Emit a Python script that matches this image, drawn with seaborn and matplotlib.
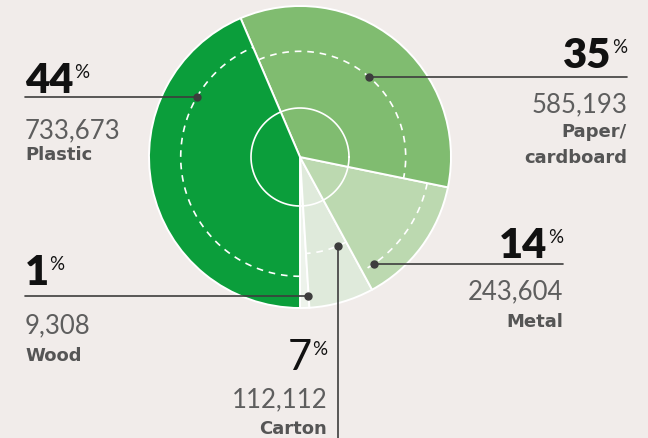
import numpy as np
import matplotlib
matplotlib.use("Agg")
import matplotlib.pyplot as plt
import seaborn as sns

# Waste by material (pie order: counter-clockwise from 6 o'clock)
materials = ["Wood", "Carton", "Metal", "Paper/\ncardboard", "Plastic"]
shares = [1, 7, 14, 35, 44]
tonnes = ["9,308", "112,112", "243,604", "585,193", "733,673"]
# dashed ring inside each slice, as a fraction of the radius
ring_levels = [None, 0.64, 0.86, 0.70, 0.79]

colors = ["#edf3eb", "#dfeadb", "#bcd9b0", "#80bc70", "#0b9e3b"]
bg = "#f1ecea"

sns.set_theme(style="white")
plt.rcParams["font.family"] = ["Lato", "DejaVu Sans"]

W, H = 648, 438
fig = plt.figure(figsize=(W / 100, H / 100), dpi=100, facecolor=bg)
ax = fig.add_axes([0, 0, 1, 1])
ax.set_facecolor(bg)

cx, cy, R = 300, 157, 151

# y axis is inverted below, so startangle=90 / clockwise puts the first
# slice at the bottom and runs it round to the right on screen
wedges, _ = ax.pie(shares, colors=colors, startangle=90, counterclock=False,
                   center=(cx, cy), radius=R,
                   wedgeprops=dict(edgecolor="white", linewidth=1.4))

# dashed arcs per slice
for w, lvl in zip(wedges, ring_levels):
    if lvl is None:
        continue
    t = np.radians(np.linspace(w.theta1, w.theta2, 120))
    ax.plot(cx + lvl * R * np.cos(t), cy + lvl * R * np.sin(t),
            color="white", lw=1.2, dashes=(4, 3.5), zorder=3)

# inner white circle
t = np.linspace(0, 2 * np.pi, 200)
ax.plot(cx + 49 * np.cos(t), cy + 49 * np.sin(t), color="white", lw=1.2, zorder=3)

ax.set_xlim(0, W)
ax.set_ylim(H, 0)
ax.set_aspect("equal")
ax.axis("off")

renderer = fig.canvas.get_renderer()
inv = ax.transData.inverted()

# label layout: anchor angle on screen (deg), anchor radius, baselines
layout = {
    "Plastic": dict(ang=150, r=0.79, line=True, x=25, align="left", w="heavy",
                    base=93, num_y=138, name_y=160),
    "Paper/\ncardboard": dict(ang=49.6, r=0.70, line=True, x=627, align="right", w="heavy",
                              base=68, num_y=112, name_y=137),
    "Metal": dict(ang=-55.4, r=0.86, line=True, x=563, align="right", w="heavy",
                  base=258, num_y=299, name_y=327),
    "Wood": dict(ang=-86.7, r=0.92, line=True, x=25, align="left", w="heavy",
                 base=285, num_y=333, name_y=361),
    "Carton": dict(ang=-67, r=0.64, line=False, x=327, align="right", w="normal",
                   base=370, num_y=407, name_y=434),
}

line_col = "#3d3d3d"
for name, pct, num in zip(materials, shares, tonnes):
    L = layout[name]
    a = np.radians(L["ang"])
    px = cx + L["r"] * R * np.cos(a)
    py = cy - L["r"] * R * np.sin(a)
    ax.plot(px, py, "o", color=line_col, ms=5, zorder=5)

    if L["line"]:
        ax.plot([L["x"], px], [py, py], color=line_col, lw=1.2, zorder=4)
    else:
        ax.plot([px, px], [py, H + 5], color=line_col, lw=1.2, zorder=4)

    x, base = L["x"], L["base"]
    if L["align"] == "left":
        t1 = ax.text(x, base, str(pct), ha="left", va="baseline", fontsize=30,
                     fontweight=L["w"], color="#111111")
        bb = t1.get_window_extent(renderer).transformed(inv)
        ax.text(bb.x1 + 0.5, base - 15, "%", ha="left", va="baseline", fontsize=13.5,
                color="#111111")
    else:
        t2 = ax.text(x, base - 15, "%", ha="right", va="baseline", fontsize=13.5,
                     color="#111111")
        bb = t2.get_window_extent(renderer).transformed(inv)
        ax.text(bb.x0 - 0.5, base, str(pct), ha="right", va="baseline", fontsize=30,
                fontweight=L["w"], color="#111111")

    ax.text(x, L["num_y"], num, ha=L["align"], va="baseline", fontsize=18.5,
            color="#5e5e5e")
    for i, part in enumerate(name.split("\n")):
        ax.text(x, L["name_y"] + 26 * i, part, ha=L["align"], va="baseline",
                fontsize=13, fontweight="bold", color="#555555",
                family=["DejaVu Sans"])

fig.savefig("out.png", dpi=100, facecolor=bg)
